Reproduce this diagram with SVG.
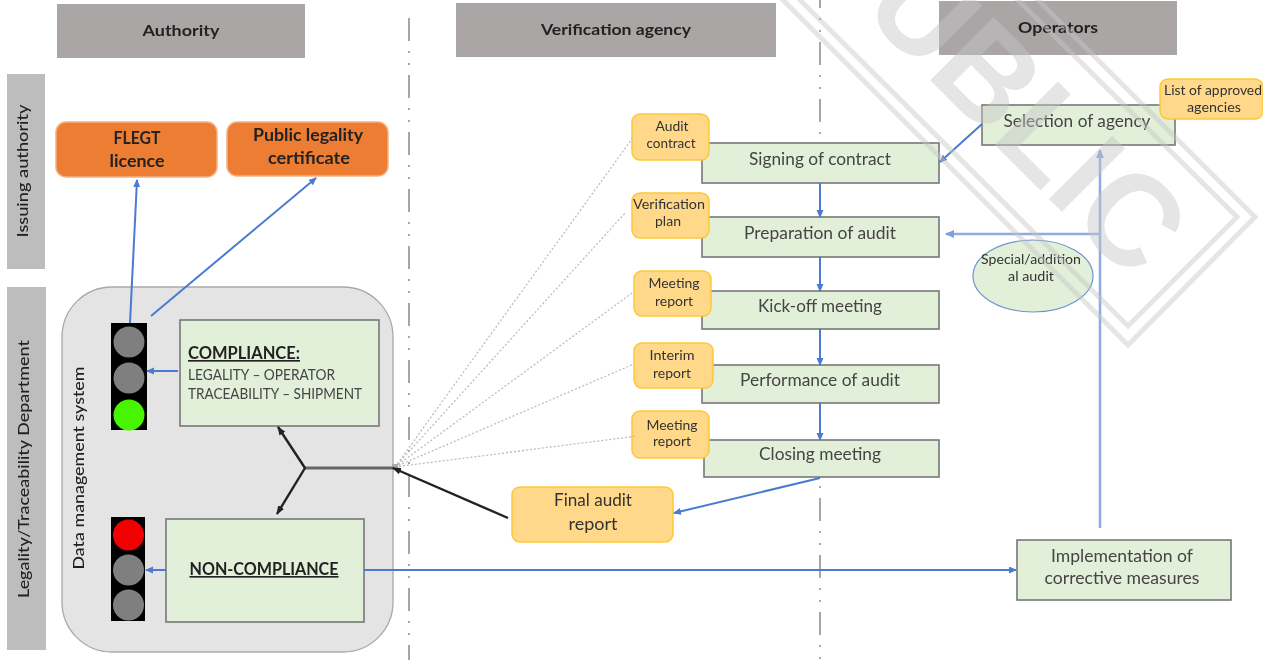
<svg xmlns="http://www.w3.org/2000/svg" width="1274" height="660" viewBox="0 0 1274 660">
<defs>
<filter id="soft" x="0" y="0" width="100%" height="100%"><feGaussianBlur stdDeviation="0.55"/></filter>
<marker id="ab" markerWidth="8" markerHeight="8" refX="7" refY="3.500" orient="auto" markerUnits="userSpaceOnUse"><path d="M0 0L8 3.500L0 7z" fill="#4a7bd0"/></marker>
<marker id="al" markerWidth="9" markerHeight="9" refX="8" refY="4" orient="auto" markerUnits="userSpaceOnUse"><path d="M0 0L9 4L0 8z" fill="#7f9fdc"/></marker>
<marker id="ak" markerWidth="9" markerHeight="8" refX="8" refY="3.500" orient="auto" markerUnits="userSpaceOnUse"><path d="M0 0L9 3.500L0 7z" fill="#222"/></marker>
</defs>
<style>
text{font-family:Lato,"Liberation Sans",Arial,sans-serif;fill:#333;text-anchor:middle}
.hdr{fill:#aaa6a6}
.hdr-t{font-size:16px;font-weight:bold;fill:#222}
.side{fill:#bdbdbd}
.side-t{font-size:16px;fill:#222;font-weight:500}
.org{fill:#ed7d31;stroke:#f4b183;stroke-width:1.5}
.org-t{font-size:16.500px;font-weight:bold;fill:#222}
.grn{fill:#e2efd9;stroke:#777;stroke-width:1.6}
.grn-t{font-size:17px;fill:#444}
.yel{fill:#ffd88a;stroke:#ffc736;stroke-width:1.5}
.yel-t{font-size:13px;fill:#333}
.tl{fill:#000}
.off{fill:#7f7f7f}
.v{stroke:#a6a6a6;stroke-width:2;stroke-dasharray:23 10 2 10 2 10;fill:none}
.blue{stroke:#4a7bd0;stroke-width:2;fill:none;marker-end:url(#ab)}
.lblue{stroke:#8fabe0;stroke-width:2.600;fill:none;marker-end:url(#al)}
.blk{stroke:#222;stroke-width:2.400;fill:none;marker-end:url(#ak)}
.dot{stroke:#bdbdbd;stroke-width:1.300;stroke-dasharray:2 2;fill:none}
.wm{fill:none;stroke:#c6c6c6;stroke-width:5;opacity:.45}
</style>
<rect width="1274" height="660" fill="#fff"/>
<g filter="url(#soft)">
<g id="dividers">
<line class="v" x1="409" y1="18" x2="409" y2="660"/>
<line class="v" x1="820" y1="-15" x2="820" y2="660"/>
</g>
<g id="h-authority"><rect class="hdr" x="57" y="4" width="248" height="54"/><text class="hdr-t" x="181" y="36" textLength="77" lengthAdjust="spacingAndGlyphs">Authority</text></g>
<g id="h-agency"><rect class="hdr" x="456" y="3" width="320" height="54"/><text class="hdr-t" x="616" y="35" textLength="150" lengthAdjust="spacingAndGlyphs">Verification agency</text></g>
<g id="h-operators"><rect class="hdr" x="939" y="1" width="238" height="54"/><text class="hdr-t" x="1058" y="33" textLength="80" lengthAdjust="spacingAndGlyphs">Operators</text></g>
<g id="s-issuing"><rect class="side" x="7" y="74" width="38" height="195"/><text class="side-t" transform="translate(28 171) rotate(-90)" textLength="133" lengthAdjust="spacingAndGlyphs">Issuing authority</text></g>
<g id="s-legality"><rect class="side" x="7" y="287" width="39" height="363"/><text class="side-t" transform="translate(29 469) rotate(-90)" textLength="258" lengthAdjust="spacingAndGlyphs">Legality/Traceability Department</text></g>
<g id="dms"><rect x="62" y="287" width="331" height="365" rx="50" fill="#e4e4e4" stroke="#a9a9a9" stroke-width="1.300"/><text class="side-t" transform="translate(84 468) rotate(-90)" textLength="203" lengthAdjust="spacingAndGlyphs">Data management system</text></g>
<g id="flegt"><rect class="org" x="56" y="122" width="161" height="55" rx="10"/><text class="org-t" x="137" y="144" textLength="47" lengthAdjust="spacingAndGlyphs">FLEGT</text><text class="org-t" x="137" y="167" textLength="55" lengthAdjust="spacingAndGlyphs">licence</text></g>
<g id="certificate"><rect class="org" x="227" y="122" width="161" height="54" rx="10"/><text class="org-t" x="308" y="141" textLength="110" lengthAdjust="spacingAndGlyphs">Public legality</text><text class="org-t" x="309" y="164" textLength="82" lengthAdjust="spacingAndGlyphs">certificate</text></g>
<g id="light-green"><rect class="tl" x="111" y="323" width="36" height="107"/><circle class="off" cx="129" cy="342" r="15.500"/><circle class="off" cx="129" cy="378" r="15.500"/><circle cx="129" cy="415" r="15.500" fill="#47f500"/></g>
<g id="light-red"><rect class="tl" x="111" y="517" width="34" height="104"/><circle cx="128.500" cy="535" r="15.500" fill="#f00000"/><circle class="off" cx="128.500" cy="570" r="15.500"/><circle class="off" cx="128.500" cy="605" r="15.500"/></g>
<g id="compliance"><rect class="grn" x="180" y="320" width="199" height="106"/><text x="188" y="359" style="text-anchor:start;font-size:16.500px;font-weight:bold;fill:#222;text-decoration:underline" textLength="112" lengthAdjust="spacingAndGlyphs">COMPLIANCE:</text><text x="188" y="380" style="text-anchor:start;font-size:14.500px;fill:#444" textLength="147" lengthAdjust="spacingAndGlyphs">LEGALITY – OPERATOR</text><text x="188" y="399" style="text-anchor:start;font-size:14.500px;fill:#444" textLength="174" lengthAdjust="spacingAndGlyphs">TRACEABILITY – SHIPMENT</text></g>
<g id="noncompliance"><rect class="grn" x="166" y="519" width="198" height="103"/><text x="264" y="575" style="font-size:16.500px;font-weight:bold;fill:#222;text-decoration:underline" textLength="149" lengthAdjust="spacingAndGlyphs">NON-COMPLIANCE</text></g>
<g id="signing"><rect class="grn" x="702" y="143" width="237" height="40"/><text class="grn-t" x="820" y="165" textLength="142" lengthAdjust="spacingAndGlyphs">Signing of contract</text></g>
<g id="preparation"><rect class="grn" x="702" y="217" width="237" height="40"/><text class="grn-t" x="820" y="239" textLength="152" lengthAdjust="spacingAndGlyphs">Preparation of audit</text></g>
<g id="kickoff"><rect class="grn" x="702" y="291" width="237" height="38"/><text class="grn-t" x="820" y="312" textLength="124" lengthAdjust="spacingAndGlyphs">Kick-off meeting</text></g>
<g id="performance"><rect class="grn" x="702" y="365" width="237" height="38"/><text class="grn-t" x="820" y="386" textLength="160" lengthAdjust="spacingAndGlyphs">Performance of audit</text></g>
<g id="closing"><rect class="grn" x="704" y="440" width="235" height="37"/><text class="grn-t" x="820" y="460" textLength="122" lengthAdjust="spacingAndGlyphs">Closing meeting</text></g>
<g id="selection"><rect class="grn" x="982" y="105" width="193" height="40"/><text class="grn-t" x="1077" y="127" textLength="147" lengthAdjust="spacingAndGlyphs">Selection of agency</text></g>
<g id="implementation"><rect class="grn" x="1017" y="540" width="214" height="60"/><text class="grn-t" x="1122" y="562" textLength="142" lengthAdjust="spacingAndGlyphs">Implementation of</text><text class="grn-t" x="1122" y="584" textLength="155" lengthAdjust="spacingAndGlyphs">corrective measures</text></g>
<g id="special"><ellipse cx="1033" cy="276" rx="60" ry="36" fill="#e2efd9" stroke="#6f94cf" stroke-width="1.200"/><text class="yel-t" x="1031" y="264" textLength="100" lengthAdjust="spacingAndGlyphs">Special/addition</text><text class="yel-t" x="1031" y="281" textLength="46" lengthAdjust="spacingAndGlyphs">al audit</text></g>
<g id="list"><rect class="yel" x="1160" y="79" width="103" height="40" rx="8"/><text class="yel-t" x="1213" y="95" textLength="98" lengthAdjust="spacingAndGlyphs">List of approved</text><text class="yel-t" x="1214" y="112" textLength="54" lengthAdjust="spacingAndGlyphs">agencies</text></g>
<g id="audit-contract"><rect class="yel" x="632" y="114" width="77" height="46" rx="8"/><text class="yel-t" x="672" y="131" textLength="33" lengthAdjust="spacingAndGlyphs">Audit</text><text class="yel-t" x="671" y="148" textLength="49" lengthAdjust="spacingAndGlyphs">contract</text></g>
<g id="verification-plan"><rect class="yel" x="632" y="193" width="77" height="45" rx="8"/><text class="yel-t" x="669" y="209" textLength="72" lengthAdjust="spacingAndGlyphs">Verification</text><text class="yel-t" x="668" y="226" textLength="26" lengthAdjust="spacingAndGlyphs">plan</text></g>
<g id="meeting-1"><rect class="yel" x="634" y="271" width="77" height="45" rx="8"/><text class="yel-t" x="674" y="288" textLength="51" lengthAdjust="spacingAndGlyphs">Meeting</text><text class="yel-t" x="674" y="306" textLength="38" lengthAdjust="spacingAndGlyphs">report</text></g>
<g id="interim"><rect class="yel" x="634" y="343" width="79" height="45" rx="8"/><text class="yel-t" x="672" y="360" textLength="45" lengthAdjust="spacingAndGlyphs">Interim</text><text class="yel-t" x="672" y="378" textLength="38" lengthAdjust="spacingAndGlyphs">report</text></g>
<g id="meeting-2"><rect class="yel" x="632" y="411" width="77" height="47" rx="8"/><text class="yel-t" x="672" y="430" textLength="51" lengthAdjust="spacingAndGlyphs">Meeting</text><text class="yel-t" x="672" y="446" textLength="38" lengthAdjust="spacingAndGlyphs">report</text></g>
<g id="final"><rect class="yel" x="512" y="487" width="161" height="55" rx="8"/><text class="grn-t" x="593" y="506" style="fill:#333" textLength="78" lengthAdjust="spacingAndGlyphs">Final audit</text><text class="grn-t" x="593" y="530" style="fill:#333" textLength="49" lengthAdjust="spacingAndGlyphs">report</text></g>
<g id="connectors">
<path class="dot" d="M395 467L634 136M395 467L626 212M395 467L632 293M395 467L634 364M395 467L637 436"/>
<rect x="392" y="464" width="6" height="6" fill="#aaa"/>
<path d="M393 468H305" stroke="#666" stroke-width="3" fill="none"/>
<path class="blk" d="M508 518L393 468"/>
<path class="blk" d="M305 468L278 427"/>
<path class="blk" d="M305 468L277 514"/>
<path class="blue" d="M130 323L137 180"/>
<path class="blue" d="M151 316L316 178"/>
<path class="blue" d="M178 371H147"/>
<path class="blue" d="M166 570H146"/>
<path class="blue" d="M364 570H1016"/>
<path class="blue" d="M820 183V217"/>
<path class="blue" d="M820 257V291"/>
<path class="blue" d="M820 329V365"/>
<path class="blue" d="M820 403V440"/>
<path class="blue" d="M982 124L940 162"/>
<path class="blue" d="M820 478L674 513"/>
<path class="lblue" d="M1100 528V150"/>
<path class="lblue" d="M1100 234H946"/>
</g>
<g id="watermark">
<path class="wm" d="M778 -5L1128 345L1255 217L1033 -5"/>
<path class="wm" d="M795 -5L1128 326L1237 217L1013 -5"/>
<text transform="translate(860 10) rotate(45)" style="font-family:'Liberation Sans',Arial,sans-serif;font-size:130px;font-weight:bold;fill:#c6c6c6;opacity:.45;text-anchor:start" textLength="385" lengthAdjust="spacingAndGlyphs">UBLIC</text>
</g>
</g>
</svg>
